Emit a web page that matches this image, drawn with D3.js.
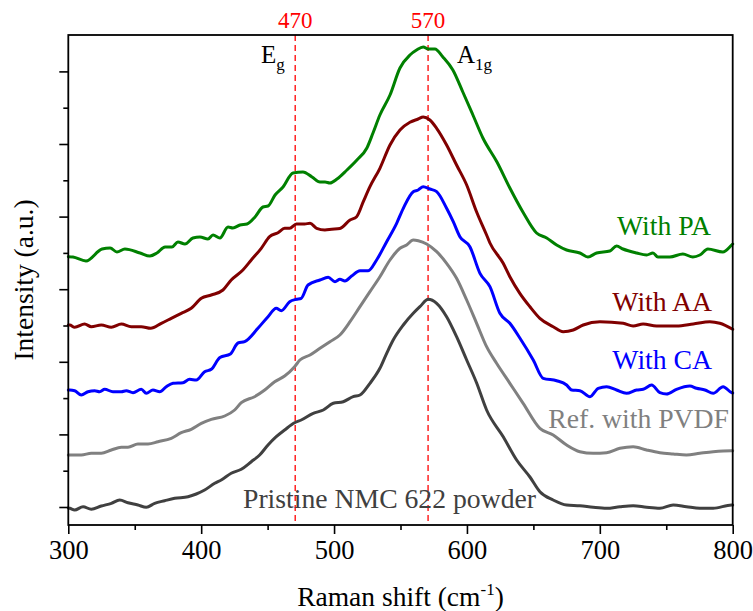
<!DOCTYPE html>
<html><head><meta charset="utf-8">
<script src="https://cdn.jsdelivr.net/npm/d3@7"></script>
<style>body{margin:0;background:#fff}svg{display:block}text{font-family:"Liberation Serif","Times New Roman",serif}</style>
</head><body><div id="chart"></div>
<script>
// Raman shift (cm^-1) and intensity (a.u.)
const pristineX=[300,301.1,304.8,311.1,317.3,324.8,332.4,338.7,344.9,352.4,358.7,365,372.5,380.1,390.1,396.3,402.6,410.2,415.1,422.6,430.2,437.7,444,450.3,456.5,462.8,470.3,475.3,484.3,491.9,499.4,506.9,514.4,519.5,527,534.5,539.6,544.5,552.1,559.6,564.6,570.9,577.2,584.7,592.2,599.8,607.3,614.8,627.3,637.4,647.4,654.9,664.9,675,685,695,705.1,715.1,725.1,735.2,745.2,755.2,765.2,775.3,785.3,799.2,800];
const pristineY=[-1,-1.3,-3,0.3,-2.3,1,3.7,7,4.3,2,-0.3,3.7,6.3,8.7,10.3,13,17,23.7,27,33.7,37.7,45.3,52,62,70.3,77,84.3,87,93.7,97,103.7,105.3,110.3,112,123.7,138.7,153.7,167,182,193.7,200.3,207.7,203.7,190.3,170.3,147,124,97,70.3,47,30,15.3,7,2,1.3,-0.3,-1.3,0.3,1.3,-0.3,-1.3,2,0.3,-1.3,-1.3,2,2];
const pvdfX=[300,301.1,309.8,317.3,324.8,332.4,339.9,344.9,352.4,360,367.5,377.5,385,392.5,400.1,407.6,417.7,425.2,430.2,440.2,447.8,455.3,462.8,470.3,474.3,481.9,489.4,496.9,504.4,512,519.5,527,534.5,542.1,549.6,554.6,559.6,563.4,569.7,577.2,584.7,592.2,599.8,607.3,614.8,622.3,632.3,642.3,654.9,664.9,675,685,695,705.1,715.1,725.1,735.2,745.2,755.2,765.2,775.2,785.3,799.2,800];
const pvdfY=[52,52,52,53.7,53.7,57,59.7,59.7,63,63,65.3,68.7,74.3,77.7,83.7,87.7,91,97,104.3,110.3,117,125.3,131,140.3,147,152,158.7,165.3,172,185.3,200.3,215.3,230.3,247,258.7,262,267,266.3,263,255.3,243.7,228.7,207,183.7,160.3,143.7,123.7,103.7,78.7,72,62,55.3,53.7,54.3,58.7,60.3,57,54.3,53,52,53.7,55.3,56.3,56.3];
const caX=[300,301.1,304.8,309.8,314.8,319.9,323.6,327.4,333.6,339.9,343.6,348.7,354.9,358.7,363.7,368.8,373.7,378.8,386.3,391.3,396.3,402.6,407.6,414.1,422,427.7,432.7,442.7,450.3,456.5,460.3,466.6,471.6,475.3,480.4,489.4,495.6,500.7,504.4,508.2,513.2,519.5,525.7,532,539.6,547.1,552.1,559.6,563.3,567.1,572.1,577.2,584.7,589.7,594.7,602.2,609.8,617.3,624.8,632.3,639.8,649.9,657.4,667.5,675,678.8,685,692.6,698.8,705.1,712.6,720.1,727.7,732.6,739,745.2,750.2,757.7,767.8,772.8,779.1,785.3,792.8,799.2,800];
const caY=[117,117,116.3,112,115.3,116.3,115.3,117.7,115.3,115.3,116.3,114.3,117.7,113.7,117,115.3,120.3,123.7,124.3,127.7,127,135.3,137.7,149.5,153,164,165.3,178.7,190.3,198.7,196.3,205.3,207.7,208.7,222,227,229.7,225.3,227.7,226,231,236.3,236.3,247,265.3,283.7,298.7,315.3,317,320.3,318,315.3,298.7,285.3,270.3,260.3,233.7,220.3,193.7,183.7,169,147,128.7,126.3,122,117,116.3,110.3,118.7,120.3,117,113.7,117,117.7,122,114.3,113,117.7,121,118.7,117,113.7,120.3,114.3,114];
const aaX=[300,301.1,304.8,312.3,317.3,324.8,332.4,339.9,347.4,354.9,362,370,377.5,385,392.5,400.1,407.6,416.4,422.6,431.4,437.7,445.2,451.5,457.8,462.8,466.6,471.7,477.9,481.9,486.9,493.1,498.2,504.4,512,517,522,527,534.5,542.1,549.6,557.1,563.3,567.1,572.1,577.2,584.7,592.2,599.8,607.3,614.8,617.3,627.3,632.3,639.8,647.4,654.9,664.9,672.4,680,687.5,700.1,717.6,725.1,732.6,742.7,757.7,770.3,782.8,790.3,800];
const aaY=[182,182,179.7,183,180.3,182,179.7,183,180.3,180.3,178.7,183.7,188.7,193.7,198.7,208.7,212,217,227,237,247,258.7,270.3,274.3,278.7,278.7,283,283,283.7,278.7,277,277.7,278.5,287,290.3,305.3,320.3,338.7,362,377,384.7,388,390,387,378.7,362,342,322,295,272,264,243.7,230.3,213.7,200.3,188.7,180.3,175.3,177,182,185.3,183.7,181,183,181,181,183,185.3,183.7,177.7];
const paX=[300,303.5,313.3,325.4,331.5,336.6,342.6,354,361.4,366.7,372.8,378,382.5,387.8,393.8,399.1,405.1,408.9,414.1,420.2,423.9,429.2,434.5,440.5,446.5,450.3,455.6,461.6,469.1,476.6,483.4,489.4,493.2,496.9,502.2,509.7,517.2,524.7,529.3,534.5,542.1,549.6,557.1,562.1,567.1,570.9,575.9,581.9,589.4,596.9,604.5,612,622.6,632.3,642.1,652.4,660,667.5,675,685,691,697.6,707.6,712.6,717.4,727.7,735.2,740,743.7,752.7,762.5,770,775.3,781.3,792.6,799.2,800];
const paY=[250.3,250,246,258,259,255,258,254,251,254,260,260,265,263,269,270,268,272,269,280,279,282,283,290,300,301,312,320,334,335,330,325,325,324,328,337,347,359,374,392,412,439,452,457,460,458,458,450,437,415,392,369,345,319,295,274,269,262,257,254,250,254,256,261,258,254,252,254,250,250,253,250,252,258,255,262,263];

const seriesNames=["Pristine NMC 622 powder","Ref. with PVDF","With CA","With AA","With PA"];
const seriesColors=["#404040","#808080","#0000ff","#800000","#008000"];
const seriesXs=[pristineX,pvdfX,caX,aaX,paX];
const seriesYs=[pristineY,pvdfY,caY,aaY,paY];

const xTicks=[300,400,500,600,700,800];
const xMinorTicks=[350,450,550,650,750];
const yTicks=[0,72.6,145.2,217.8,290.4,363,435.6];
const yMinorTicks=[36.3,108.9,181.5,254.1,326.7,399.3];
const peakPositions=[470,570];
const peakLabels=["470","570"];

const W=753,H=611;
const m={left:68.3,right:20.3,top:35,bottom:86};
const svg=d3.select("#chart").append("svg").attr("width",W).attr("height",H);
const x=d3.scaleLinear().domain([300,800]).range([m.left,W-m.right]);
const y=d3.scaleLinear().domain([-18,472]).range([H-m.bottom,m.top]);

// dashed peak lines
svg.selectAll("line.peak").data(peakPositions).join("line")
  .attr("x1",d=>x(d)+1).attr("x2",d=>x(d)+1).attr("y1",m.top).attr("y2",H-m.bottom)
  .attr("stroke","#ff0000").attr("stroke-width",1.3).attr("stroke-dasharray","6,4");
svg.selectAll("text.peak").data(peakPositions).join("text")
  .attr("x",d=>x(d)+1).attr("y",28).attr("text-anchor","middle")
  .attr("fill","#ff0000").attr("font-size",23).text((d,i)=>peakLabels[i]);

// curves
const line=d3.line().x(d=>x(d[0])).y(d=>y(d[1])).curve(d3.curveMonotoneX);
seriesXs.forEach((xs,i)=>{
  svg.append("path").datum(xs.map((v,j)=>[v,seriesYs[i][j]]))
    .attr("d",line).attr("fill","none").attr("stroke",seriesColors[i])
    .attr("stroke-width",3).attr("stroke-linejoin","round").attr("stroke-linecap","round");
});

// axes
const gx=svg.append("g").attr("transform",`translate(0,${H-m.bottom})`)
  .call(d3.axisBottom(x).tickValues(xTicks).tickSize(9).tickPadding(6).tickFormat(d3.format("d")));
const gxm=svg.append("g").attr("transform",`translate(0,${H-m.bottom})`)
  .call(d3.axisBottom(x).tickValues(xMinorTicks).tickSize(5).tickFormat(""));
const gy=svg.append("g").attr("transform",`translate(${m.left},0)`)
  .call(d3.axisLeft(y).tickValues(yTicks).tickSize(9).tickFormat(""));
const gym=svg.append("g").attr("transform",`translate(${m.left},0)`)
  .call(d3.axisLeft(y).tickValues(yMinorTicks).tickSize(5).tickFormat(""));
[gx,gxm,gy,gym].forEach(g=>{g.select(".domain").remove();g.selectAll("line").attr("stroke","#000").attr("stroke-width",1.6);});
gx.selectAll("text").attr("font-size",26.5).attr("fill","#000").attr("font-family","Liberation Serif");

// frame
svg.append("rect").attr("x",m.left).attr("y",m.top).attr("width",W-m.right-m.left).attr("height",H-m.bottom-m.top)
  .attr("fill","none").attr("stroke","#000").attr("stroke-width",1.8);

// axis titles
const xt=svg.append("text").attr("x",(m.left+W-m.right)/2).attr("y",606).attr("text-anchor","middle").attr("font-size",27.5);
xt.append("tspan").text("Raman shift (cm");
xt.append("tspan").attr("font-size",17).attr("dy",-11).text("-1");
xt.append("tspan").attr("dy",11).text(")");
svg.append("text").attr("transform",`translate(33,${(m.top+H-m.bottom)/2}) rotate(-90)`)
  .attr("text-anchor","middle").attr("font-size",27.5).text("Intensity (a.u.)");

// peak mode labels
const eg=svg.append("text").attr("x",261).attr("y",63).attr("font-size",25);
eg.append("tspan").text("E");
eg.append("tspan").attr("font-size",17).attr("dy",7).text("g");
const a1g=svg.append("text").attr("x",457).attr("y",63).attr("font-size",25);
a1g.append("tspan").text("A");
a1g.append("tspan").attr("font-size",17).attr("dy",7).text("1g");

// series labels
const labelPos=[[243,508,"start"],[729,428,"end"],[712,369,"end"],[712,311,"end"],[711,235,"end"]];
seriesNames.forEach((n,i)=>{
  svg.append("text").attr("x",labelPos[i][0]).attr("y",labelPos[i][1]).attr("text-anchor",labelPos[i][2])
    .attr("font-size",27.7).attr("fill",seriesColors[i]).text(n);
});
</script></body></html>
